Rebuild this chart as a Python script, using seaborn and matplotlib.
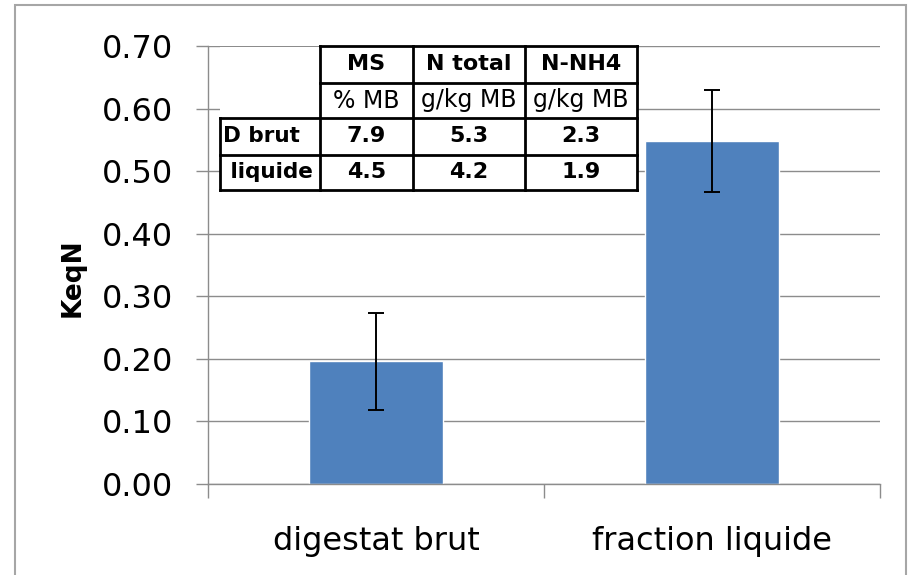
import matplotlib
matplotlib.use("Agg")
import matplotlib.pyplot as plt
import seaborn as sns
import pandas as pd
from matplotlib.patches import Rectangle
from matplotlib.lines import Line2D

# ---- data ----
categories = ["digestat brut", "fraction liquide"]
keqn = [0.196, 0.548]
keqn_err = [0.077, 0.081]
y_ticks = [0.0, 0.1, 0.2, 0.3, 0.4, 0.5, 0.6, 0.7]
y_label = "KeqN"

table_cols = ["MS", "N total", "N-NH4"]
table_units = ["% MB", "g/kg MB", "g/kg MB"]
table_rows = ["D brut", " liquide"]
table_ms = [7.9, 4.5]
table_ntotal = [5.3, 4.2]
table_nnh4 = [2.3, 1.9]

# ---- style ----
sns.set_theme(style="white")
plt.rcParams["font.family"] = ["DejaVu Sans"]

W, H = 908, 575
fig = plt.figure(figsize=(W / 100, H / 100), dpi=100)
fig.patch.set_facecolor("white")

def fx(px):
    return px / W

def fy(py):
    return 1 - py / H

ax = fig.add_axes([fx(208), fy(484), 672 / W, 438 / H])
ax.set_facecolor("white")

df = pd.DataFrame({"cat": categories, "val": keqn})
sns.barplot(data=df, x="cat", y="val", color="#4f81bd", saturation=1,
            width=0.4, errorbar=None, ax=ax)
ax.errorbar(range(len(categories)), keqn, yerr=keqn_err, fmt="none",
            ecolor="black", elinewidth=1.4, capsize=6, capthick=1.4, zorder=3)

ax.set_xlim(-0.5, len(categories) - 0.5)
ax.set_ylim(0, 0.7)
ax.set_yticks(y_ticks)
ax.set_yticklabels([f"{v:.2f}" for v in y_ticks])
ax.yaxis.grid(True, color="#8c8c8c", lw=1.0)
ax.xaxis.grid(False)
ax.set_axisbelow(True)

for s in ["top", "right"]:
    ax.spines[s].set_visible(False)
for s in ["left", "bottom"]:
    ax.spines[s].set_color("#8c8c8c")
    ax.spines[s].set_linewidth(1.0)

ax.tick_params(axis="y", which="major", direction="out", length=8.6, width=1,
               color="#8c8c8c", pad=16.5, labelsize=23, labelcolor="black", left=True)
ax.tick_params(axis="x", which="major", length=0, pad=30, labelsize=23,
               labelcolor="black")
ax.set_xticks([-0.5, 0.5, 1.5], minor=True)
ax.tick_params(axis="x", which="minor", direction="out", length=10, width=1,
               color="#8c8c8c", bottom=True)

ax.set_xlabel("")
ax.set_ylabel(y_label, fontsize=19, fontweight="bold", color="black")
ax.yaxis.set_label_coords((86 - 208) / 672, (484 - 278) / 438)

# ---- outer chart border ----
fig.add_artist(Rectangle((fx(15), -0.05), (906 - 15) / W, fy(5) + 0.05,
                         transform=fig.transFigure, fill=False,
                         edgecolor="#a6a6a6", lw=1.5, clip_on=False))

# ---- inset table ----
col_edges = [220, 320, 413, 525, 637]
row_edges = [46, 83, 118, 155, 190]
tf = fig.transFigure
fig.add_artist(Rectangle((fx(220), fy(190)), (637 - 220) / W, (190 - 47) / H,
                         transform=tf, facecolor="white", edgecolor="none",
                         zorder=5))
lw_t = 2.0
def hline(py, x0, x1):
    fig.add_artist(Line2D([fx(x0), fx(x1)], [fy(py), fy(py)], transform=tf,
                          color="black", lw=lw_t, zorder=6,
                          solid_capstyle="projecting"))
def vline(px, y0, y1):
    fig.add_artist(Line2D([fx(px), fx(px)], [fy(y0), fy(y1)], transform=tf,
                          color="black", lw=lw_t, zorder=6,
                          solid_capstyle="projecting"))

hline(row_edges[0], col_edges[1], col_edges[-1])
hline(row_edges[1], col_edges[1], col_edges[-1])
for r in row_edges[2:]:
    hline(r, col_edges[0], col_edges[-1])
vline(col_edges[0], row_edges[2], row_edges[-1])
for c in col_edges[1:]:
    vline(c, row_edges[0], row_edges[-1])

def cell_text(ci, ri, s, bold, size, ha="center"):
    yc = (row_edges[ri] + row_edges[ri + 1]) / 2
    if ha == "center":
        xc = (col_edges[ci] + col_edges[ci + 1]) / 2
    else:
        xc = col_edges[ci] + 3
    fig.text(fx(xc), fy(yc), s, ha=ha, va="center", fontsize=size,
             fontweight="bold" if bold else "normal", color="black", zorder=7)

for j, name in enumerate(table_cols):
    cell_text(j + 1, 0, name, True, 16)
for j, unit in enumerate(table_units):
    cell_text(j + 1, 1, unit, False, 17)
for i, rname in enumerate(table_rows):
    cell_text(0, i + 2, rname, True, 15.5, ha="left")
    for j, vals in enumerate([table_ms, table_ntotal, table_nnh4]):
        cell_text(j + 1, i + 2, f"{vals[i]:.1f}", True, 16)

fig.savefig("out.png", dpi=100, facecolor="white")
